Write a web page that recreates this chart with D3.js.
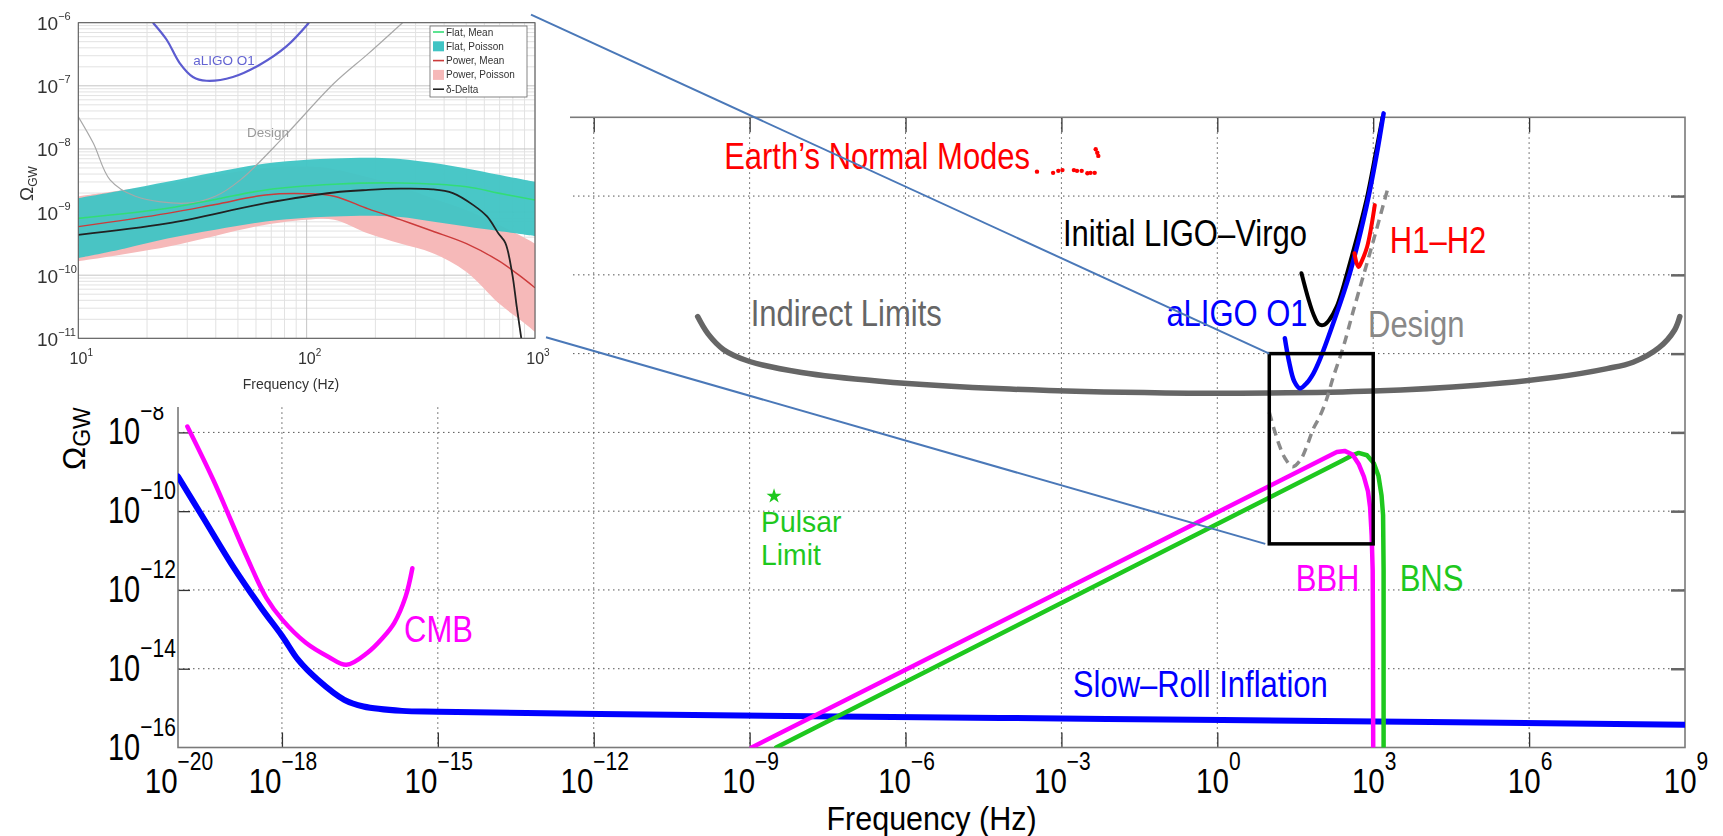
<!DOCTYPE html>
<html>
<head>
<meta charset="utf-8">
<script src="https://cdn.jsdelivr.net/npm/d3@7"></script>
<style>
  body { margin: 0; background: #fff; }
  svg { display: block; }
  text { font-family: "Liberation Sans", Arial, Helvetica, sans-serif; }
</style>
</head>
<body>
<svg id="chart" width="1723" height="836"></svg>
<script>
// ---------- Main panel: tick exponents ----------
const xTickExps = [-20, -18, -15, -12, -9, -6, -3, 0, 3, 6, 9];
const xGridExps = [-18, -15, -12, -9, -6, -3, 0, 3, 6];
const yTickExps = [-16, -14, -12, -10, -8];
const yGridExps = [-14, -12, -10, -8, -6, -4, -2];

// ---------- Main panel: curves, as [log10 f (Hz), log10 Omega_GW] ----------
const slowRoll = [[-20, -9.12], [-19.5, -10.2], [-18.94, -11.41], [-18.4, -12.45], [-17.99, -13.18],
  [-17.69, -13.77], [-17.31, -14.28], [-16.8, -14.79], [-16.43, -14.96], [-15.69, -15.07],
  [-14.98, -15.09], [-11.88, -15.15], [-4.18, -15.25], [0.1, -15.3], [9, -15.42]];
const cmb = [[-19.82, -7.85], [-19.32, -9.21], [-18.68, -11.15], [-18.3, -12.2], [-17.99, -12.76],
  [-17.54, -13.34], [-17.1, -13.7], [-16.76, -13.9], [-16.36, -13.6], [-16.05, -13.2],
  [-15.84, -12.84], [-15.62, -12.17], [-15.49, -11.45]];
const bbh = [[-8.96, -16], [2.1, -8.63], [2.3, -8.5], [2.45, -8.47], [2.6, -8.56], [2.72, -8.8],
  [2.82, -9.12], [2.9, -9.5], [2.94, -9.9], [2.97, -10.6], [2.99, -11.5], [2.995, -13], [3.0, -16]];
const bns = [[-8.49, -16], [2.4, -8.72], [2.6, -8.58], [2.72, -8.52], [2.88, -8.58], [3.01, -8.78],
  [3.1, -9.1], [3.16, -9.6], [3.19, -10.1], [3.2, -11.5], [3.2, -16]];
const indirect = [[-10.0, -5.06], [-9.8, -5.5], [-9.5, -5.9], [-9.0, -6.2], [-8.0, -6.48], [-6.5, -6.7],
  [-4, -6.9], [-1, -7.0], [1, -7.0], [3, -6.95], [5, -6.8], [6.5, -6.6], [7.5, -6.38], [8.0, -6.22],
  [8.5, -5.85], [8.8, -5.4], [8.9, -5.06]];
const initialLV = [[1.62, -3.96], [1.75, -4.6], [1.85, -5.0], [1.95, -5.25], [2.05, -5.27], [2.15, -5.15],
  [2.3, -4.8], [2.55, -3.71], [2.87, -2.1], [3.06, -0.83], [3.18, 0]];
const aligoO1 = [[1.3, -5.61], [1.38, -6.2], [1.48, -6.7], [1.59, -6.88], [1.72, -6.75], [1.85, -6.5],
  [1.97, -6.16], [2.23, -5.23], [2.55, -3.96], [2.87, -2.27], [3.06, -1.0], [3.2, 0.1]];
const design = [[1.0, -7.49], [1.1, -7.95], [1.2, -8.35], [1.3, -8.65], [1.45, -8.87], [1.6, -8.7],
  [1.72, -8.36], [1.85, -7.9], [1.97, -7.6], [2.1, -7.17], [2.23, -6.6], [2.42, -5.85], [2.62, -4.9],
  [3.0, -3.15], [3.29, -1.76]];
const h1h2 = [[2.64, -3.45], [2.68, -3.7], [2.72, -3.8], [2.78, -3.65], [2.88, -3.3], [2.96, -2.8], [3.03, -2.23]];
const earthModes = [[-3.47, -1.38], [-3.16, -1.41], [-3.06, -1.36], [-2.98, -1.34], [-2.76, -1.34],
  [-2.7, -1.36], [-2.61, -1.36], [-2.5, -1.42], [-2.44, -1.41], [-2.36, -1.41], [-2.34, -0.81], [-2.31, -0.9], [-2.29, -0.98]];
const pulsarLimit = [-8.53, -9.62];
// zoom box drawn around the detector band: [f range], [Omega range] (log10)
const zoomBoxF = [1, 3];
const zoomBoxOmega = [-10.83, -6];

// text labels: [text, log10 f, log10 Omega, colour]
const mainLabels = [
  ["CMB", -15.65, -13.31, "#ff00ff"],
  ["Slow\u2013Roll Inflation", -2.78, -14.71, "#0000ff"],
  ["BBH", 1.51, -12.02, "#ff00ff"],
  ["BNS", 3.51, -12.02, "#1ec81e"],
  ["Indirect Limits", -8.98, -5.31, "#666666"],
  ["Earth\u2019s Normal Modes", -9.49, -1.32, "#ff0000"],
  ["Initial LIGO\u2013Virgo", -2.97, -3.28, "#000000"],
  ["aLIGO O1", -0.98, -5.31, "#0000ff"],
  ["H1\u2013H2", 3.32, -3.45, "#ff0000"],
  ["Design", 2.9, -5.57, "#888888"]
];
const pulsarText = ["Pulsar", "Limit"];
const pulsarTextAt = [-8.78, -10.53];

// ---------- Inset: O1 stochastic background curves ----------
const insetYTickExps = [-6, -7, -8, -9, -10, -11];
const insetXTickExps = [1, 2, 3];
// bands: [log10 f, upper, lower]
const flatPoisson = [[1.0, -8.78, -9.73], [1.2, -8.65, -9.58], [1.39, -8.52, -9.42], [1.6, -8.37, -9.28],
  [1.82, -8.23, -9.15], [2.0, -8.17, -9.09], [2.12, -8.15, -9.07], [2.3, -8.14, -9.06], [2.41, -8.16, -9.08],
  [2.55, -8.22, -9.15], [2.7, -8.31, -9.23], [2.84, -8.41, -9.3], [3.0, -8.52, -9.38]];
const powerPoisson = [[1.0, -8.75, -9.78], [1.39, -8.55, -9.55], [1.82, -8.3, -9.2], [2.0, -8.28, -9.12],
  [2.12, -8.32, -9.12], [2.27, -8.45, -9.34], [2.41, -8.6, -9.5], [2.55, -8.78, -9.65], [2.7, -8.97, -9.95],
  [2.84, -9.2, -10.44], [2.95, -9.4, -10.75], [3.0, -9.5, -10.9]];
const flatMean = [[1.0, -9.1], [1.39, -8.94], [1.6, -8.8], [1.82, -8.65], [2.12, -8.56], [2.41, -8.54],
  [2.7, -8.6], [2.84, -8.7], [3.0, -8.81]];
const powerMean = [[1.0, -9.23], [1.39, -9.02], [1.6, -8.88], [1.82, -8.73], [2.0, -8.71], [2.12, -8.75],
  [2.27, -8.95], [2.41, -9.12], [2.55, -9.3], [2.7, -9.5], [2.84, -9.77], [2.93, -10.0], [3.0, -10.2]];
const deltaModel = [[1.0, -9.36], [1.39, -9.18], [1.82, -8.86], [2.12, -8.69], [2.27, -8.65], [2.41, -8.63],
  [2.55, -8.64], [2.64, -8.7], [2.73, -8.89], [2.79, -9.07], [2.84, -9.34], [2.87, -9.49], [2.9, -9.97],
  [2.92, -10.5], [2.94, -11.0]];
const insetAligo = [[1.327, -6.0], [1.387, -6.27], [1.444, -6.64], [1.502, -6.86], [1.561, -6.92],
  [1.677, -6.86], [1.793, -6.67], [1.91, -6.38], [2.01, -6.0]];
const insetDesign = [[1.0, -7.49], [1.066, -7.91], [1.139, -8.49], [1.25, -8.75], [1.475, -8.86],
  [1.6, -8.75], [1.71, -8.49], [1.9, -7.81], [2.12, -6.96], [2.27, -6.49], [2.42, -6.0]];
const legendEntries = [["Flat, Mean", "line", "#33dd77"], ["Flat, Poisson", "patch", "#3fc4c4"],
  ["Power, Mean", "line", "#cc3a3a"], ["Power, Poisson", "patch", "#f6b9b9"], ["\u03b4-Delta", "line", "#222222"]];

// ---------- Layout ----------
const svg = d3.select("#chart");
const p = v => Math.pow(10, v);

const x = d3.scaleLog().domain([1e-20, 1e9]).range([178, 1685]);
const y = d3.scaleLog().domain([1e-16, 1]).range([747.5, 117.3]);
const X0 = x.range()[0], X1 = x.range()[1], Y0 = y.range()[1], Y1 = y.range()[0];

const main = svg.append("g");
main.append("defs").append("clipPath").attr("id", "plotClip")
  .append("rect").attr("x", X0).attr("y", Y0 - 12).attr("width", X1 - X0).attr("height", Y1 - Y0 + 12);

// dotted grid
const grid = main.append("g").attr("stroke", "#555").attr("stroke-width", 1).attr("stroke-dasharray", "1.5,3.5");
grid.selectAll("line.v").data(xGridExps).join("line")
  .attr("x1", d => x(p(d))).attr("x2", d => x(p(d))).attr("y1", Y0).attr("y2", Y1);
grid.selectAll("line.h").data(yGridExps).join("line")
  .attr("y1", d => y(p(d))).attr("y2", d => y(p(d))).attr("x1", X0).attr("x2", X1);

// axes (tick marks pointing inward)
const fmtNone = () => "";
const axB = main.append("g").attr("transform", `translate(0,${Y1})`)
  .call(d3.axisBottom(x).tickValues(xGridExps.map(p)).tickSize(-15).tickFormat(fmtNone));
const axT = main.append("g").attr("transform", `translate(0,${Y0})`)
  .call(d3.axisTop(x).tickValues(xGridExps.map(p)).tickSize(-15).tickFormat(fmtNone));
const axL = main.append("g").attr("transform", `translate(${X0},0)`)
  .call(d3.axisLeft(y).tickValues(yGridExps.map(p)).tickSize(-12).tickFormat(fmtNone));
const axR = main.append("g").attr("transform", `translate(${X1},0)`)
  .call(d3.axisRight(y).tickValues(yGridExps.map(p)).tickSize(-14).tickFormat(fmtNone));
[axB, axT, axL, axR].forEach(a => {
  a.select(".domain").remove();
  a.selectAll(".tick line").attr("stroke", "#333").attr("stroke-width", 1.3);
});
axR.selectAll(".tick line").attr("stroke", "#666").attr("stroke-width", 2.5);
main.append("rect").attr("x", X0).attr("y", Y0).attr("width", X1 - X0).attr("height", Y1 - Y0)
  .attr("fill", "none").attr("stroke", "#7a7a7a").attr("stroke-width", 1.6);

// tick labels: 10 with superscript exponent, slightly tall glyphs
function powerLabel(g, px, py, exp, anchor, size, supSize, sy) {
  const t = g.append("text")
    .attr("transform", `translate(${px},${py}) scale(1,${sy})`)
    .attr("text-anchor", anchor).attr("fill", "#000").attr("font-size", size);
  t.append("tspan").text("10");
  t.append("tspan").attr("font-size", supSize).attr("dy", -19).text(String(exp).replace("-", "\u2212"));
  return t;
}
const tickLabels = main.append("g");
xTickExps.forEach(e => powerLabel(tickLabels, x(p(e)) + 1, 793, e, "middle", 29.5, 21, 1.2));
yTickExps.forEach(e => powerLabel(tickLabels, 108, y(p(e)) + 12, e, "start", 29, 21, 1.26));

main.append("text")
  .attr("transform", `translate(${(X0 + X1) / 2},830) scale(1,1.07)`)
  .attr("text-anchor", "middle").attr("font-size", 30.5).text("Frequency (Hz)");
const yl = main.append("text").attr("transform", "translate(85,470) rotate(-90)").attr("font-size", 31);
yl.append("tspan").text("\u03a9");
yl.append("tspan").attr("font-size", 23).attr("dy", 5).text("GW");

// curves
const lineGen = d3.line().x(d => x(p(d[0]))).y(d => y(p(d[1]))).curve(d3.curveCatmullRom.alpha(0.5));
const lineLin = d3.line().x(d => x(p(d[0]))).y(d => y(p(d[1])));
const curves = main.append("g").attr("clip-path", "url(#plotClip)").attr("fill", "none")
  .attr("stroke-linejoin", "round").attr("stroke-linecap", "round");
curves.append("path").datum(indirect).attr("d", lineGen).attr("stroke", "#666").attr("stroke-width", 5.5);
curves.append("path").datum(slowRoll).attr("d", lineGen).attr("stroke", "#0000ff").attr("stroke-width", 6);
curves.append("path").datum(cmb).attr("d", lineGen).attr("stroke", "#ff00ff").attr("stroke-width", 4.5);
curves.append("path").datum(bns).attr("d", lineLin).attr("stroke", "#1ec81e").attr("stroke-width", 4.5);
curves.append("path").datum(bbh).attr("d", lineLin).attr("stroke", "#ff00ff").attr("stroke-width", 4.5);
curves.append("path").datum(design).attr("d", lineGen).attr("stroke", "#8a8a8a").attr("stroke-width", 3.5)
  .attr("stroke-dasharray", "9,6").attr("stroke-linecap", "butt");
curves.append("path").datum(initialLV).attr("d", lineGen).attr("stroke", "#000").attr("stroke-width", 4);
curves.append("path").datum(aligoO1).attr("d", lineGen).attr("stroke", "#0000ff").attr("stroke-width", 4.5);
curves.append("path").datum(h1h2).attr("d", lineGen).attr("stroke", "#ff0000").attr("stroke-width", 4);
curves.selectAll("circle.em").data(earthModes).join("circle")
  .attr("cx", d => x(p(d[0]))).attr("cy", d => y(p(d[1]))).attr("r", 2.2)
  .attr("fill", "#ff0000").attr("stroke", "none");
main.append("path")
  .attr("d", d3.symbol(d3.symbolStar).size(70)())
  .attr("transform", `translate(${x(p(pulsarLimit[0]))},${y(p(pulsarLimit[1]))})`)
  .attr("fill", "#1ec81e");

// zoom box
main.append("rect")
  .attr("x", x(p(zoomBoxF[0]))).attr("y", y(p(zoomBoxOmega[1])))
  .attr("width", x(p(zoomBoxF[1])) - x(p(zoomBoxF[0])))
  .attr("height", y(p(zoomBoxOmega[0])) - y(p(zoomBoxOmega[1])))
  .attr("fill", "none").attr("stroke", "#000").attr("stroke-width", 3.5);

// labels
const labels = main.append("g");
mainLabels.forEach(([txt, lf, lo, col]) => {
  labels.append("text")
    .attr("transform", `translate(${x(p(lf))},${y(p(lo))}) scale(1,1.17)`)
    .attr("font-size", 31).attr("fill", col).text(txt);
});
const pt = labels.append("text")
  .attr("transform", `translate(${x(p(pulsarTextAt[0]))},${y(p(pulsarTextAt[1]))}) scale(1.05,1.1)`)
  .attr("font-size", 27).attr("fill", "#1ec81e");
pulsarText.forEach((s, i) => pt.append("tspan").attr("x", 0).attr("dy", i === 0 ? 0 : 30).text(s));

// ---------- Inset panel ----------
// white backing for the inset picture
svg.append("rect").attr("x", 0).attr("y", 0).attr("width", 570).attr("height", 407).attr("fill", "#fff");

const defs = svg.append("defs");
defs.append("filter").attr("id", "soft").append("feGaussianBlur").attr("stdDeviation", 0.55);

const ix = d3.scaleLog().domain([10, 1000]).range([78.3, 535]);
const iy = d3.scaleLog().domain([1e-11, 1e-6]).range([338.3, 22.7]);
const IX0 = ix.range()[0], IX1 = ix.range()[1], IY0 = iy.range()[1], IY1 = iy.range()[0];
const inset = svg.append("g").attr("filter", "url(#soft)");
inset.append("rect").attr("x", IX0).attr("y", IY0).attr("width", IX1 - IX0).attr("height", IY1 - IY0).attr("fill", "#fff");

// log grid: minor then major
const minorX = [], minorY = [];
[1, 2].forEach(e => { for (let k = 2; k <= 9; k++) minorX.push(k * p(e)); });
[-11, -10, -9, -8, -7].forEach(e => { for (let k = 2; k <= 9; k++) minorY.push(k * p(e)); });
const ig = inset.append("g").attr("stroke-width", 1);
ig.selectAll("line.mx").data(minorX).join("line").attr("stroke", "#e2e2e2")
  .attr("x1", d => ix(d)).attr("x2", d => ix(d)).attr("y1", IY0).attr("y2", IY1);
ig.selectAll("line.my").data(minorY).join("line").attr("stroke", "#e2e2e2")
  .attr("y1", d => iy(d)).attr("y2", d => iy(d)).attr("x1", IX0).attr("x2", IX1);
ig.selectAll("line.Mx").data(insetXTickExps).join("line").attr("stroke", "#c4c4c4")
  .attr("x1", d => ix(p(d))).attr("x2", d => ix(p(d))).attr("y1", IY0).attr("y2", IY1);
ig.selectAll("line.My").data(insetYTickExps).join("line").attr("stroke", "#c4c4c4")
  .attr("y1", d => iy(p(d))).attr("y2", d => iy(p(d))).attr("x1", IX0).attr("x2", IX1);

inset.append("defs").append("clipPath").attr("id", "insetClip")
  .append("rect").attr("x", IX0).attr("y", IY0).attr("width", IX1 - IX0).attr("height", IY1 - IY0);
const ic = inset.append("g").attr("clip-path", "url(#insetClip)");
const ilineGen = d3.line().x(d => ix(p(d[0]))).y(d => iy(p(d[1]))).curve(d3.curveCatmullRom.alpha(0.5));
const iareaGen = d3.area().x(d => ix(p(d[0]))).y0(d => iy(p(d[2]))).y1(d => iy(p(d[1]))).curve(d3.curveCatmullRom.alpha(0.5));
ic.append("path").datum(powerPoisson).attr("d", iareaGen).attr("fill", "#f6b9b9");
ic.append("path").datum(flatPoisson).attr("d", iareaGen).attr("fill", "#3fc4c4").attr("fill-opacity", 0.95);
ic.append("path").datum(insetDesign).attr("d", ilineGen).attr("fill", "none").attr("stroke", "#a8a8a8").attr("stroke-width", 1.2);
ic.append("path").datum(insetAligo).attr("d", ilineGen).attr("fill", "none").attr("stroke", "#5b5bd0").attr("stroke-width", 2.2);
ic.append("path").datum(flatMean).attr("d", ilineGen).attr("fill", "none").attr("stroke", "#33dd77").attr("stroke-width", 1.6);
ic.append("path").datum(powerMean).attr("d", ilineGen).attr("fill", "none").attr("stroke", "#cc3a3a").attr("stroke-width", 1.4);
ic.append("path").datum(deltaModel).attr("d", ilineGen).attr("fill", "none").attr("stroke", "#222").attr("stroke-width", 1.8);

inset.append("rect").attr("x", IX0).attr("y", IY0).attr("width", IX1 - IX0).attr("height", IY1 - IY0)
  .attr("fill", "none").attr("stroke", "#555").attr("stroke-width", 1);

inset.append("text").attr("x", 224).attr("y", 65).attr("text-anchor", "middle")
  .attr("font-size", 13.5).attr("fill", "#6464d2").text("aLIGO O1");
inset.append("text").attr("x", 268).attr("y", 137).attr("text-anchor", "middle")
  .attr("font-size", 13.5).attr("fill", "#9a9a9a").text("Design");

// legend
const lg = inset.append("g");
lg.append("rect").attr("x", 430).attr("y", 26).attr("width", 97).attr("height", 71)
  .attr("fill", "#fff").attr("stroke", "#666").attr("stroke-width", 0.8);
legendEntries.forEach(([name, kind, col], i) => {
  const cy = 32 + i * 14.3;
  if (kind === "line") {
    lg.append("line").attr("x1", 433).attr("x2", 444).attr("y1", cy).attr("y2", cy).attr("stroke", col).attr("stroke-width", 1.6);
  } else {
    lg.append("rect").attr("x", 433).attr("y", cy - 5).attr("width", 11).attr("height", 10).attr("fill", col);
  }
  lg.append("text").attr("x", 446).attr("y", cy + 3.5).attr("font-size", 10).attr("fill", "#333").text(name);
});

// inset tick labels
insetYTickExps.forEach(e => {
  const t = inset.append("text").attr("x", 37).attr("y", iy(p(e)) + 7.5).attr("font-size", 19).attr("fill", "#333");
  t.append("tspan").text("10");
  t.append("tspan").attr("font-size", 11).attr("dy", -10).text("\u2212" + Math.abs(e));
});
insetXTickExps.forEach(e => {
  const t = inset.append("text").attr("x", ix(p(e)) + 3).attr("y", 364).attr("text-anchor", "middle")
    .attr("font-size", 16).attr("fill", "#333");
  t.append("tspan").text("10");
  t.append("tspan").attr("font-size", 10).attr("dy", -8).text(String(e));
});
inset.append("text").attr("x", 291).attr("y", 389).attr("text-anchor", "middle")
  .attr("font-size", 14).attr("fill", "#333").text("Frequency (Hz)");
const iyl = inset.append("text").attr("transform", "translate(33,201) rotate(-90)").attr("font-size", 19).attr("fill", "#333");
iyl.append("tspan").text("\u03a9");
iyl.append("tspan").attr("font-size", 12).attr("dy", 4).text("GW");

// connector lines from inset corners to the zoom box
const boxL = x(p(zoomBoxF[0]));
const connectors = [
  [[IX1 - 4, IY0 - 8], [boxL, y(p(zoomBoxOmega[1]))]],
  [[IX1 + 11, IY1 - 1], [boxL - 4, y(p(zoomBoxOmega[0]))]]
];
svg.append("g").selectAll("line").data(connectors).join("line")
  .attr("x1", d => d[0][0]).attr("y1", d => d[0][1]).attr("x2", d => d[1][0]).attr("y2", d => d[1][1])
  .attr("stroke", "#4a78b8").attr("stroke-width", 2);
</script>
</body>
</html>
